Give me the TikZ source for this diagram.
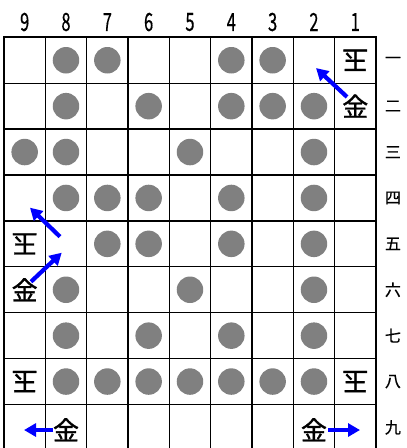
\documentclass[tikz,border=0pt]{standalone}
\usepackage{fontspec}
\newfontfamily\jp{Noto Sans CJK JP}
\newfontfamily\jpb[FakeBold=1.2]{Noto Sans CJK JP}
\newfontfamily\jpm[FakeBold=0.6]{Noto Sans CJK JP}
\usetikzlibrary{arrows.meta}
\definecolor{stonegray}{HTML}{808080}
\begin{document}
\begin{tikzpicture}[x=41.33pt,y=-45.9pt,
  stone/.style={circle,fill=stonegray,minimum size=26.5pt,inner sep=0pt},
  piece/.style={inner sep=0pt,font=\jpb\fontsize{26}{26}\selectfont},
  gote/.style={piece,rotate=180},
  collabel/.style={inner sep=0pt,font=\jpm\fontsize{25}{25}\selectfont,xscale=0.66},
  rowlabel/.style={inner sep=0pt,font=\jpm\fontsize{16}{16}\selectfont},
  arr/.style={blue,line width=4.2pt,-{Triangle[length=12pt,width=13pt]}},
  inner/.style={line width=1.3pt},
  outer/.style={line width=2pt}]
\useasboundingbox (-4pt,37.3pt) rectangle (403pt,-410.7pt);
\begin{scope}
\clip (-4pt,37.3pt) rectangle (403pt,-410.7pt);
% grid
\foreach \i in {1,...,8} {
  \draw[inner] (\i,0) -- (\i,9.2);
  \draw[inner] (0,\i) -- (9,\i);
}
\draw[outer] (0,9.2) -- (0,0) -- (9,0) -- (9,9.2);
\draw[outer] (0,9) -- (9,9);
% stones
\foreach \c/\r in {8/1,7/1,4/1,3/1,
  8/2,6/2,4/2,3/2,2/2,
  9/3,8/3,5/3,2/3,
  8/4,7/4,6/4,4/4,2/4,
  7/5,6/5,4/5,2/5,
  8/6,5/6,2/6,
  8/7,6/7,4/7,2/7,
  8/8,7/8,6/8,5/8,4/8,3/8,2/8}
  \node[stone] (s\c\r) at ({9.5-\c},{\r-0.5}) {};
% pieces
\node[gote] (k11) at (8.5,0.5) {玉};
\node[gote] (k95) at (0.5,4.5) {玉};
\node[gote] (k98) at (0.5,7.5) {玉};
\node[gote] (k18) at (8.5,7.5) {玉};
\node[piece] (g12) at (8.5,1.5) {金};
\node[piece] (g96) at (0.5,5.5) {金};
\node[piece] (g89) at (1.5,8.55) {金};
\node[piece] (g29) at (7.5,8.55) {金};
% arrows
\coordinate (a1s) at (8.30,1.30); \coordinate (a1e) at (7.55,0.67);
\coordinate (a2s) at (1.355,4.344); \coordinate (a2e) at (0.629,3.712);
\coordinate (a3s) at (0.653,5.325); \coordinate (a3e) at (1.396,4.693);
\coordinate (a4s) at (1.186,8.556); \coordinate (a4e) at (0.484,8.556);
\coordinate (a5s) at (7.84,8.556); \coordinate (a5e) at (8.614,8.556);
\foreach \k in {1,...,5} \draw[arr] (a\k s) -- (a\k e);
% labels
\foreach \c [count=\i from 0] in {9,8,7,6,5,4,3,2,1}
  \node[collabel] (c\c) at (\i+0.5,-0.333) {\c};
\foreach \t [count=\r] in {一,二,三,四,五,六,七,八,九}
  \node[rowlabel] (r\r) at (9.41,\r-0.5) {\t};
\end{scope}
\end{tikzpicture}
\end{document}
